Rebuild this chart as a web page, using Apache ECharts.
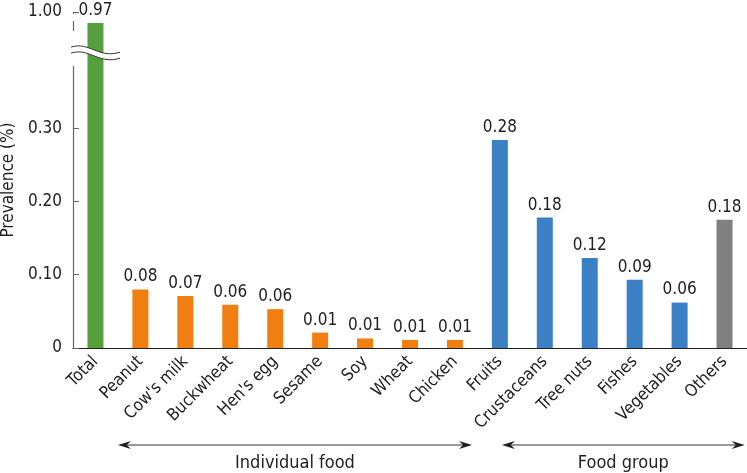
<!DOCTYPE html>
<html><head><meta charset="utf-8">
<script src="https://cdn.jsdelivr.net/npm/echarts@6/dist/echarts.min.js"></script>
<style>html,body{margin:0;padding:0;background:#fff}#c{width:747px;height:473px}</style>
</head><body><div id="c"></div>
<script>
const categories = ["Total","Peanut","Cow's milk","Buckwheat","Hen's egg","Sesame","Soy","Wheat","Chicken","Fruits","Crustaceans","Tree nuts","Fishes","Vegetables","Others"];
const values = [0.97,0.080,0.071,0.059,0.053,0.021,0.013,0.011,0.011,0.284,0.178,0.123,0.093,0.062,0.175];
const valueLabels = ["0.97","0.08","0.07","0.06","0.06","0.01","0.01","0.01","0.01","0.28","0.18","0.12","0.09","0.06","0.18"];
const groups = ["total","food","food","food","food","food","food","food","food","group","group","group","group","group","other"];
const yTicks = [0,0.1,0.2,0.3,1.0];
const groupNames = ["Individual food","Food group"];

const colors = {total:'#55A03C', food:'#F07E10', group:'#3B7FC4', other:'#808080'};
const FONT = '"Liberation Sans Narrow","DejaVu Sans Condensed",sans-serif';

const chart = echarts.init(document.getElementById('c'), null, {renderer:'canvas'});
chart.setOption({
  animation:false,
  textStyle:{fontFamily:FONT},
  grid:{left:73,right:0,top:12,bottom:125,containLabel:false,outerBoundsMode:'none'},
  xAxis:{type:'category',data:categories,
    axisLine:{lineStyle:{color:'#222',width:1.2}},
    axisTick:{show:false},
    axisLabel:{rotate:45,fontSize:17,color:'#222',fontFamily:FONT,margin:11,interval:0}
  },
  yAxis:{type:'value',min:0,max:1.0,
    breaks:[{start:0.385,end:0.96,gap:'10.6%'},{start:0.972,end:0.998,gap:'2.4%'}],
    breakArea:{show:false},
    name:'Prevalence (%)',nameLocation:'middle',nameGap:48,
    nameTextStyle:{fontSize:17,color:'#222',fontFamily:FONT},
    axisLine:{show:true,lineStyle:{color:'#666',width:1.2}},
    axisTick:{show:true,inside:true,length:6,customValues:yTicks,lineStyle:{color:'#666'}},
    axisLabel:{customValues:yTicks,fontSize:17,color:'#222',fontFamily:FONT,margin:11,
      formatter:v=> v===0?'0':v.toFixed(2)},
    splitLine:{show:false}
  },
  series:[{type:'bar',barWidth:16,
    data:values.map((v,i)=>({value:v,itemStyle:{color:colors[groups[i]]}})),
    label:{show:true,position:'top',distance:4,fontSize:17,color:'#222',fontFamily:FONT,
      formatter:p=>valueLabels[p.dataIndex]}
  }]
});

function px(i){return chart.convertToPixel({xAxisIndex:0},i);}
function py(v){return chart.convertToPixel({yAxisIndex:0},v);}
const step = px(1)-px(0);
const arrowY = 445, textY = 463;
function arrow(x1,x2,label){
  const w=13;
  return [
    {type:'line',shape:{x1:x1+4,y1:arrowY,x2:x2-4,y2:arrowY},style:{stroke:'#333',lineWidth:1}},
    {type:'polygon',shape:{points:[[x1,arrowY],[x1+w,arrowY-4],[x1+w-4,arrowY],[x1+w,arrowY+4]]},style:{fill:'#222'}},
    {type:'polygon',shape:{points:[[x2,arrowY],[x2-w,arrowY-4],[x2-w+4,arrowY],[x2-w,arrowY+4]]},style:{fill:'#222'}},
    {type:'text',style:{text:label,x:(x1+x2)/2,y:textY,align:'center',verticalAlign:'middle',fontSize:18,fill:'#222',fontFamily:FONT}}
  ];
}
// axis-break decoration
const yTopBrk = py(0.96), yBotBrk = py(0.385);
const brkY = (yTopBrk+yBotBrk)/2 + 5;
const ax = px(0)-step/2;
const xa = ax-2, xb = ax+47;
function wave(dy,stroke,lw){
  return {type:'bezierCurve',shape:{x1:xa,y1:brkY+dy-3,cpx1:xa+18,cpy1:brkY+dy-9,cpx2:xa+28,cpy2:brkY+dy+9,x2:xb,y2:brkY+dy+2},style:{stroke:stroke,lineWidth:lw,fill:null},z:200};
}
chart.setOption({graphic:[
  ...arrow(px(1)-step/2, px(8)+step*0.38, groupNames[0]),
  ...arrow(px(9)+2, px(14)+step*0.45, groupNames[1]),
  {type:'rect',shape:{x:ax-3,y:yTopBrk+1,width:6,height:yBotBrk-yTopBrk-1},style:{fill:'#fff'},z:150},
  wave(0,'#fff',6),
  wave(-3,'#333',1), wave(3,'#333',1)
]});
</script></body></html>
